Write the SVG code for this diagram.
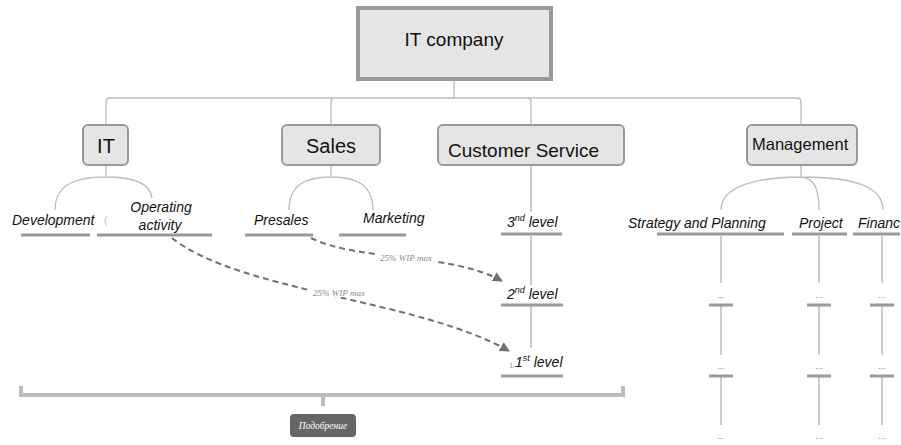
<svg xmlns="http://www.w3.org/2000/svg" width="901" height="445" viewBox="0 0 901 445">
<defs>
<style>
.box{fill:#e5e5e5;stroke:#999;stroke-width:2}
.t{font-family:"Liberation Sans",Arial,sans-serif;fill:#111}
.big{font-size:20px}
.it{font-family:"Liberation Sans",Arial,sans-serif;font-style:italic;font-size:14px;fill:#111}
.ul{stroke:#999;stroke-width:3}
.ln{fill:none;stroke:#bbb;stroke-width:1.3}
.vl{fill:none;stroke:#ccc;stroke-width:2}
.dash{fill:none;stroke:#707070;stroke-width:2;stroke-dasharray:6 4}
.lab{font-family:"Liberation Serif","Times New Roman",serif;font-style:italic;font-size:9px;fill:#888}
.dots{font-family:"Liberation Sans",Arial,sans-serif;font-size:9px;fill:#888}
</style>
<marker id="ah" viewBox="0 0 10 10" refX="9" refY="5" markerWidth="5" markerHeight="5" orient="auto">
<path d="M0,0 L10,5 L0,10 z" fill="#707070"/>
</marker>
</defs>
<rect width="901" height="445" fill="#fff"/>

<g id="connectors">
<path class="ln" d="M454,80 V98 M110,98 H797 M106,125 V102 Q106,98 110,98 M331,125 V102 Q331,98 335,98 H527 Q531,98 531,102 V125 M797,98 Q801,98 801,102 V125"/>
<path class="ln" d="M106,165 V177 M55,210 C55,182 80,177 106,177 C130,177 150,182 152,198"/>
<path class="ln" d="M331,165 V177 M289,210 C289,182 310,177 331,177 C352,177 373,182 373,210"/>
<path class="ln" d="M801,165 V177 M721,210 C721,185 760,177 801,177 C850,177 883,185 883,210 M801,177 C815,178 819,190 819,210"/>
<path class="vl" d="M531,165 V212 M531,236 V285 M531,306 V348"/>
<path class="vl" d="M721,236 V283 M721,306 V355 M721,377 V425 M819,236 V283 M819,306 V355 M819,377 V425 M882,236 V283 M882,306 V355 M882,377 V425"/>
<path class="dash" d="M311,238 C360,262 450,252 502,281" marker-end="url(#ah)"/>
<path class="dash" d="M172,238 C240,292 420,300 509,351" marker-end="url(#ah)"/>
<rect x="377" y="252" width="58" height="10" fill="#fff"/>
<text class="lab" x="406" y="261" text-anchor="middle">25% WIP max</text>
<rect x="310" y="287" width="58" height="10" fill="#fff"/>
<text class="lab" x="339" y="296" text-anchor="middle">25% WIP max</text>
</g>

<g id="root">
<rect x="358" y="8" width="193" height="71" fill="#e5e5e5" stroke="#999" stroke-width="4"/>
<text class="t" x="454" y="46" text-anchor="middle" font-size="19">IT company</text>
</g>

<g id="it">
<rect class="box" x="83" y="125" width="45" height="40" rx="5"/>
<text class="t big" x="106" y="153" text-anchor="middle">IT</text>
</g>
<g id="sales">
<rect class="box" x="282" y="125" width="98" height="40" rx="5"/>
<text class="t big" x="331" y="153" text-anchor="middle">Sales</text>
</g>
<g id="customer-service">
<rect class="box" x="438" y="125" width="186" height="40" rx="5"/>
<text class="t" x="448" y="157" font-size="19">Customer Service</text>
</g>
<g id="management">
<rect class="box" x="747" y="125" width="110" height="40" rx="5"/>
<text class="t" x="752" y="150" font-size="16.5">Management</text>
</g>

<g id="development">
<text class="it" x="12" y="225">Development</text>
<line class="ul" x1="21" y1="235" x2="90" y2="235"/>
<text x="104" y="224" style="font-family:'Liberation Sans',sans-serif;font-size:10px;fill:#bbb">(</text>
</g>
<g id="operating-activity">
<text class="it" x="161" y="212" text-anchor="middle">Operating</text>
<text class="it" x="160" y="230" text-anchor="middle">activity</text>
<line class="ul" x1="97" y1="235" x2="212" y2="235"/>
</g>
<g id="presales">
<text class="it" x="254" y="225">Presales</text>
<line class="ul" x1="245" y1="235" x2="313" y2="235"/>
</g>
<g id="marketing">
<text class="it" x="363" y="223">Marketing</text>
<line class="ul" x1="339" y1="235" x2="406" y2="235"/>
</g>
<g id="level3">
<text class="it" x="507" y="227">3<tspan font-size="9" dy="-6">nd</tspan><tspan dy="6"> level</tspan></text>
<line class="ul" x1="501" y1="234" x2="562" y2="234"/>
</g>
<g id="level2">
<text class="it" x="507" y="299">2<tspan font-size="9" dy="-6">nd</tspan><tspan dy="6"> level</tspan></text>
<line class="ul" x1="501" y1="305" x2="563" y2="305"/>
</g>
<g id="level1">
<text x="509" y="368" style="font-family:'Liberation Sans',sans-serif;font-size:8px;fill:#aaa">1</text>
<text class="it" x="515" y="367">1<tspan font-size="9" dy="-6">st</tspan><tspan dy="6"> level</tspan></text>
<line class="ul" x1="501" y1="376" x2="563" y2="376"/>
</g>
<g id="strategy">
<text class="it" x="628" y="228">Strategy and Planning</text>
<line class="ul" x1="657" y1="234" x2="784" y2="234"/>
</g>
<g id="project">
<text class="it" x="799" y="228">Project</text>
<line class="ul" x1="792" y1="234" x2="847" y2="234"/>
</g>
<g id="finance">
<text class="it" x="858" y="228">Financ</text>
<line class="ul" x1="853" y1="234" x2="900" y2="234"/>
</g>

<g id="sub-items">
<text class="dots" x="721" y="298" text-anchor="middle">...</text>
<text class="dots" x="819" y="298" text-anchor="middle">...</text>
<text class="dots" x="882" y="298" text-anchor="middle">...</text>
<line class="ul" x1="709" y1="305" x2="733" y2="305"/>
<line class="ul" x1="807" y1="305" x2="831" y2="305"/>
<line class="ul" x1="870" y1="305" x2="894" y2="305"/>
<text class="dots" x="721" y="369" text-anchor="middle">...</text>
<text class="dots" x="819" y="369" text-anchor="middle">...</text>
<text class="dots" x="882" y="369" text-anchor="middle">...</text>
<line class="ul" x1="709" y1="376" x2="733" y2="376"/>
<line class="ul" x1="807" y1="376" x2="831" y2="376"/>
<line class="ul" x1="870" y1="376" x2="894" y2="376"/>
<text class="dots" x="721" y="439" text-anchor="middle">...</text>
<text class="dots" x="819" y="439" text-anchor="middle">...</text>
<text class="dots" x="882" y="439" text-anchor="middle">...</text>
</g>

<g id="bracket">
<path d="M21,386 V395 H623 V386 M323,395 V406" fill="none" stroke="#bbb" stroke-width="4"/>
<rect x="290" y="414" width="66" height="23" rx="4" fill="#666"/>
<text x="323" y="429" text-anchor="middle" style="font-family:'Liberation Serif','Times New Roman',serif;font-style:italic;font-size:9.5px;fill:#fff">Подобрение</text>
</g>
</svg>
